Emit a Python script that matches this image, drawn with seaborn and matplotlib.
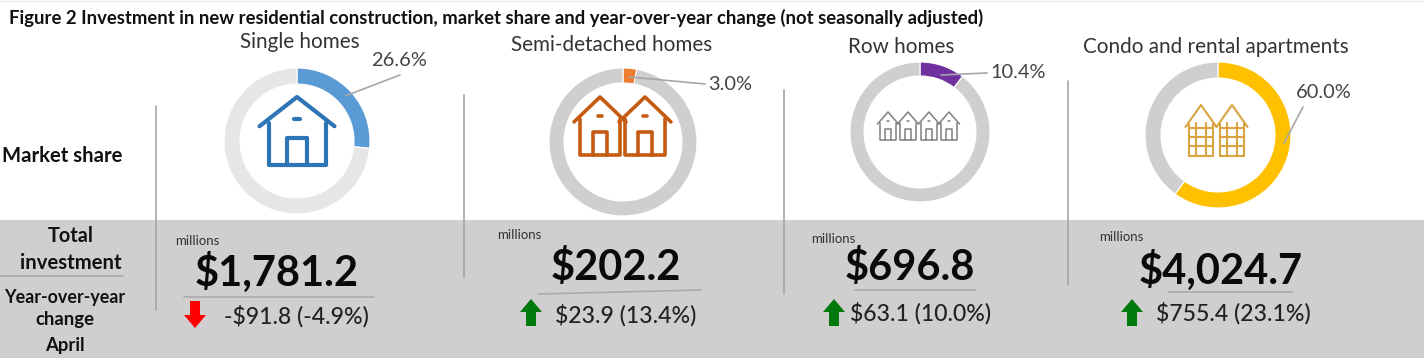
import matplotlib
matplotlib.use('Agg')
import matplotlib.pyplot as plt
from matplotlib.patches import Polygon
import seaborn as sns

sns.set_theme(style='white')
plt.rcParams['font.family'] = ['Lato', 'DejaVu Sans']

W, H = 1424, 358
BAND = '#D0CECE'

categories = ['Single homes', 'Semi-detached homes', 'Row homes', 'Condo and rental apartments']
shares = [26.6, 3.0, 10.4, 60.0]
share_labels = ['26.6%', '3.0%', '10.4%', '60.0%']
investment = ['$1,781.2', '$202.2', '$696.8', '$4,024.7']
changes = ['-$91.8 (-4.9%)', '$23.9 (13.4%)', '$63.1 (10.0%)', '$755.4 (23.1%)']
directions = ['down', 'up', 'up', 'up']
slice_colors = ['#5B9BD5', '#ED7D31', '#7030A0', '#FFC000']
rest_colors = ['#E7E6E6', '#D0CECE', '#D0CECE', '#D0CECE']

# layout in pixels
donuts = [(297, 141, 73, 16), (623, 142, 74, 15), (920, 132, 70, 14), (1218, 135, 73, 16)]
title_pos = [(300, 42), (612, 45), (901, 47), (1216, 47)]
leaders = [((345, 96), (400, 75)), ((630, 77), (705, 84)), ((941, 75), (987, 73)), ((1284, 143), (1303, 107))]
label_pos = [(399, 60), (730, 84), (1018, 73), (1324, 93)]
dividers = [(156, 106, 310), (464, 95, 277), (784, 90, 294), (1068, 81, 285)]
millions_x = [(175, 241), (497, 235), (811, 239), (1099, 237)]
value_pos = [(277, 272), (616, 267), (910, 267), (1221, 270)]
underlines = [(184, 374, 297, 297), (538, 701, 294, 290), (855, 975, 290, 290), (1169, 1292, 292, 292)]
change_pos = [(296, 316), (626, 315), (921, 313), (1233, 313)]
arrow_pos = [(195, 301), (531, 299), (834, 299), (1132, 299)]

fig = plt.figure(figsize=(W / 100, H / 100), dpi=100)
bg = fig.add_axes([0, 0, 1, 1])
bg.set_xlim(0, W)
bg.set_ylim(H, 0)
bg.axis('off')
bg.axhspan(220, H, color=BAND, lw=0, zorder=0)
bg.plot([0, W], [357.5, 357.5], color='#BDD0E0', lw=1)
bg.plot([0, W], [0.5, 0.5], color='#EEEEEE', lw=1)


def house(cx, top, w, h, color, lw, door=True):
    l, r = cx - w / 2, cx + w / 2
    roof = top + h * 0.43
    bg.plot([l, cx, r], [roof, top, roof], color=color, lw=lw, solid_capstyle='round', zorder=5)
    bg.plot([l + w * 0.12, l + w * 0.12, r - w * 0.12, r - w * 0.12],
            [roof - h * 0.05, top + h, top + h, roof - h * 0.05], color=color, lw=lw, zorder=5)
    if door:
        dw = w * 0.13
        bg.plot([cx - dw, cx - dw, cx + dw, cx + dw], [top + h, top + h * 0.61, top + h * 0.61, top + h],
                color=color, lw=lw, zorder=5)
        bg.plot([cx - w * 0.04, cx + w * 0.04], [top + h * 0.32, top + h * 0.32],
                color=color, lw=lw, zorder=5)


def building(cx, top, w, h, color, lw):
    house(cx, top, w, h, color, lw, door=False)
    l, r = cx - w * 0.38, cx + w * 0.38
    for f in (0.45, 0.62, 0.8):
        bg.plot([l, r], [top + h * f, top + h * f], color=color, lw=lw, zorder=5)
    for d in (-0.15, 0.15):
        bg.plot([cx + w * d, cx + w * d], [top + h * 0.35, top + h], color=color, lw=lw, zorder=5)


# donuts
for i in range(len(categories)):
    cx, cy, r, thick = donuts[i]
    ax = fig.add_axes([(cx - r) / W, 1 - (cy + r) / H, 2 * r / W, 2 * r / H])
    ax.pie([shares[i], 100 - shares[i]], colors=[slice_colors[i], rest_colors[i]],
           startangle=90, counterclock=False, radius=1,
           wedgeprops=dict(width=thick / r, edgecolor='white', linewidth=0.8))
    ax.set_xlim(-1, 1)
    ax.set_ylim(-1, 1)
    ax.set_zorder(1)

# overlay stays above the pies
bg.set_zorder(2)
bg.patch.set_alpha(0)

house(297, 97, 75, 68, '#2E75B6', 3)
house(600, 97, 52, 58, '#C55A11', 2.6)
house(645, 97, 52, 58, '#C55A11', 2.6)
for hx in (888, 908, 929, 949):
    house(hx, 112, 21, 28, '#7F7F7F', 1.1)
building(1201, 105, 31, 51, '#D9A441', 1.5)
building(1232, 105, 31, 51, '#D9A441', 1.5)

bg.text(9, 18, 'Figure 2 Investment in new residential construction, market share and year-over-year change (not seasonally adjusted)',
        fontsize=13.3, fontweight='bold', color='#111111', ha='left', va='center')

for i in range(len(categories)):
    bg.text(*title_pos[i], categories[i], fontsize=14.9, color='#333333', ha='center', va='center')
    (x0, y0), (x1, y1) = leaders[i]
    bg.plot([x0, x1], [y0, y1], color='#A6A6A6', lw=1.2, zorder=6)
    bg.text(*label_pos[i], share_labels[i], fontsize=14.4, color='#444444', ha='center', va='center')
    x, y0, y1 = dividers[i]
    bg.plot([x, x], [y0, y1], color='#A6A6A6', lw=1.2)
    bg.text(*millions_x[i], 'millions', fontsize=9.5, color='#333333', ha='left', va='center')
    bg.text(*value_pos[i], investment[i], fontsize=30, fontweight='bold', color='#0A0A0A', ha='center', va='center')
    x0, x1, y0, y1 = underlines[i]
    bg.plot([x0, x1], [y0, y1], color='#ABABAB', lw=1.2)
    bg.text(*change_pos[i], changes[i], fontsize=16.6, fontweight='medium', color='#222222', ha='center', va='center')
    ax_, ay = arrow_pos[i]
    if directions[i] == 'down':
        pts = [(ax_ - 5, ay), (ax_ + 5, ay), (ax_ + 5, ay + 14), (ax_ + 11, ay + 14), (ax_, ay + 27),
               (ax_ - 11, ay + 14), (ax_ - 5, ay + 14)]
        col = '#FF0000'
    else:
        pts = [(ax_ - 5, ay + 27), (ax_ + 5, ay + 27), (ax_ + 5, ay + 13), (ax_ + 11, ay + 13), (ax_, ay),
               (ax_ - 11, ay + 13), (ax_ - 5, ay + 13)]
        col = '#007A0C'
    bg.add_patch(Polygon(pts, closed=True, color=col, lw=0, zorder=6))

bg.text(2, 156, 'Market share', fontsize=14.6, fontweight='bold', color='#111111', ha='left', va='center')
bg.text(71, 236, 'Total', fontsize=14.4, fontweight='bold', color='#111111', ha='center', va='center')
bg.text(71, 263, 'investment', fontsize=14.6, fontweight='bold', color='#111111', ha='center', va='center')
bg.plot([0, 123], [276, 276], color='#A6A6A6', lw=1.2)
bg.text(65, 297, 'Year-over-year', fontsize=12.9, fontweight='bold', color='#111111', ha='center', va='center')
bg.text(65, 320, 'change', fontsize=13.3, fontweight='bold', color='#111111', ha='center', va='center')
bg.text(65, 345, 'April', fontsize=13.3, fontweight='bold', color='#111111', ha='center', va='center')

fig.savefig('out.png', dpi=100, facecolor='white')
